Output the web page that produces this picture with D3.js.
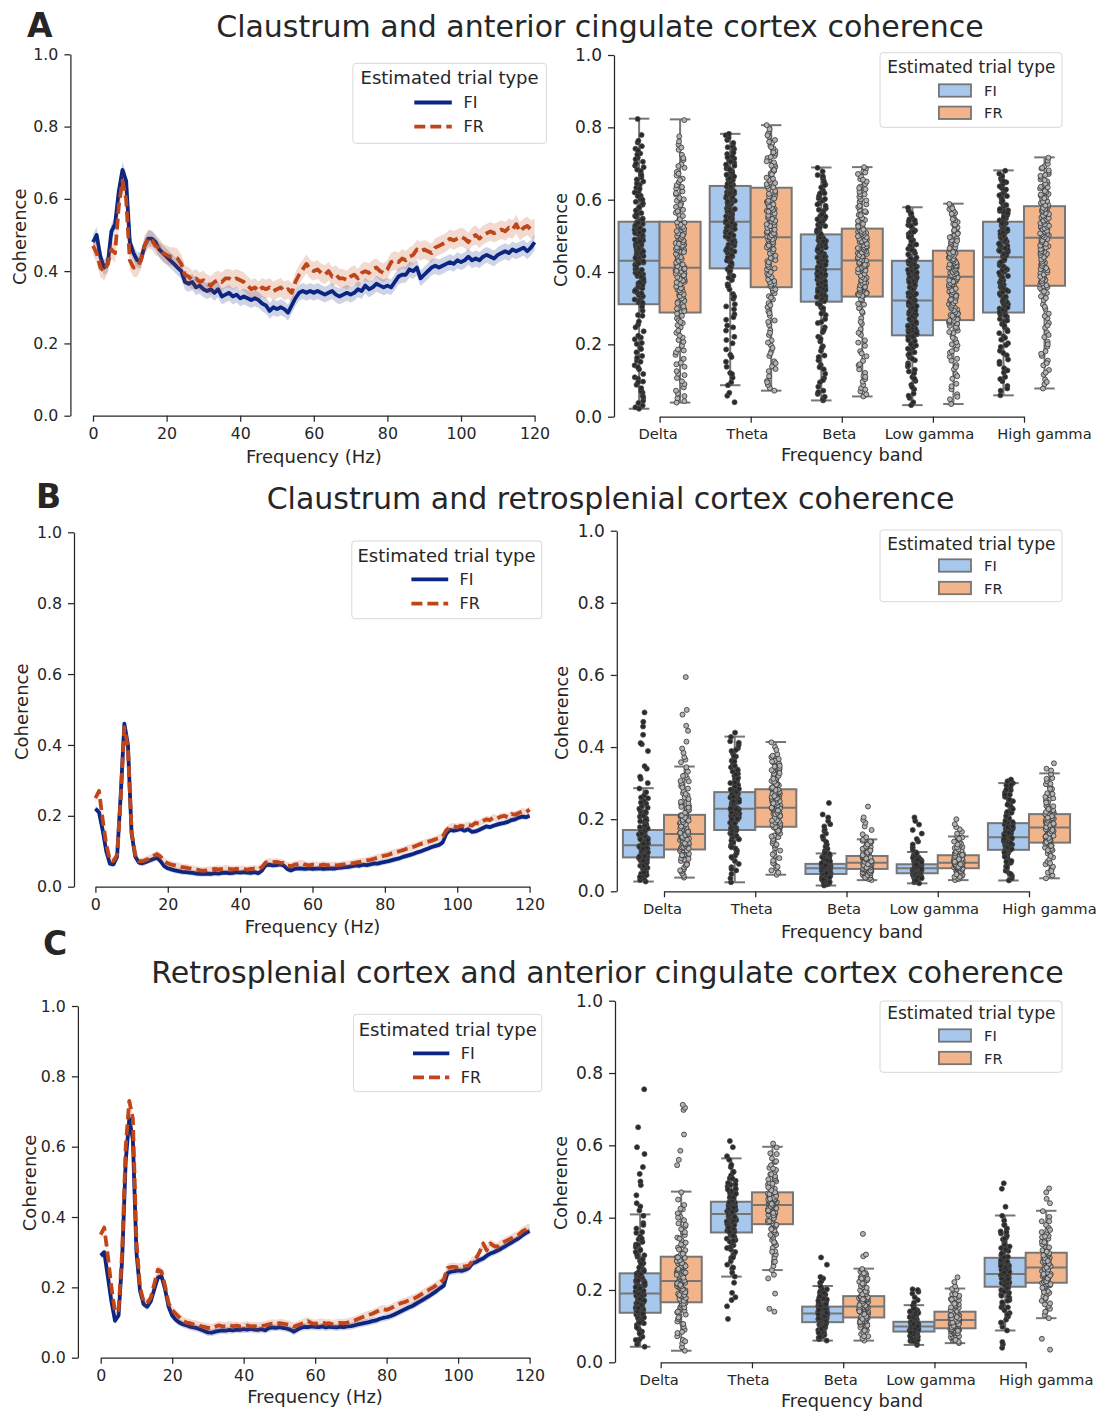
<!DOCTYPE html>
<html>
<head>
<meta charset="utf-8">
<script src="https://cdn.jsdelivr.net/npm/d3@7"></script>
<style>
  body { margin: 0; background: #fff; }
  svg { display: block; }
</style>
</head>
<body>
<svg id="fig" width="1097" height="1412"></svg>
<script>
// ---------- data ----------
const bands = ["Delta", "Theta", "Beta", "Low gamma", "High gamma"];
const trialTypes = ["FI", "FR"];
const freqTicks = [0, 20, 40, 60, 80, 100, 120];
const cohTicks = [0, 0.2, 0.4, 0.6, 0.8, 1.0];
const panelLetters = ["A", "B", "C"];
const panelTitles = [
  "Claustrum and anterior cingulate cortex coherence",
  "Claustrum and retrosplenial cortex coherence",
  "Retrosplenial cortex and anterior cingulate cortex coherence"
];
const legendTitle = "Estimated trial type";

// mean coherence spectra, one value per Hz (0..120 Hz)
const cohA_FI = [
  .48,.50,.44,.41,.42,.51,.53,.62,.68,.65,
  .48,.45,.43,.43,.47,.49,.49,.48,.46,.45,
  .44,.43,.42,.41,.40,.37,.365,.37,.355,.36,
  .35,.345,.35,.34,.35,.33,.335,.34,.33,.335,
  .325,.33,.325,.32,.325,.32,.31,.305,.29,.30,
  .295,.30,.295,.285,.305,.325,.34,.345,.34,.345,
  .34,.345,.34,.335,.34,.345,.335,.33,.335,.34,
  .335,.34,.35,.345,.36,.35,.355,.365,.36,.355,
  .36,.355,.37,.385,.39,.39,.405,.40,.41,.38,
  .39,.40,.41,.415,.41,.415,.42,.425,.42,.43,
  .425,.43,.44,.43,.435,.43,.44,.445,.44,.435,
  .445,.45,.455,.45,.46,.455,.46,.465,.455,.465,
  .48];
const cohA_FR = [
  .47,.45,.41,.40,.42,.46,.45,.58,.65,.60,
  .43,.41,.41,.43,.47,.49,.485,.47,.465,.45,
  .445,.44,.44,.435,.42,.39,.385,.375,.38,.37,
  .375,.365,.36,.37,.375,.37,.38,.38,.375,.38,
  .375,.37,.36,.35,.355,.345,.355,.35,.355,.345,
  .35,.355,.345,.35,.34,.37,.39,.405,.42,.405,
  .40,.405,.395,.39,.40,.385,.39,.38,.38,.375,
  .385,.39,.38,.395,.40,.395,.405,.41,.40,.395,
  .405,.425,.43,.425,.435,.43,.44,.445,.46,.455,
  .46,.455,.45,.465,.47,.475,.48,.49,.485,.49,
  .495,.49,.48,.495,.50,.49,.50,.505,.51,.505,
  .51,.515,.51,.52,.515,.53,.51,.52,.525,.515,
  .52];
const cohB_FI = [
  .22,.21,.16,.10,.065,.063,.085,.26,.46,.40,
  .15,.085,.068,.066,.07,.074,.078,.082,.072,.058,
  .052,.049,.046,.044,.042,.041,.04,.039,.037,.036,
  .036,.037,.036,.038,.037,.039,.04,.038,.039,.041,
  .04,.041,.04,.039,.041,.038,.045,.06,.062,.06,
  .061,.063,.06,.05,.046,.05,.052,.051,.05,.052,
  .05,.051,.052,.05,.051,.052,.051,.053,.054,.055,
  .056,.058,.06,.059,.062,.061,.063,.066,.065,.068,
  .07,.072,.075,.078,.08,.084,.087,.09,.093,.097,
  .10,.104,.108,.112,.115,.118,.125,.15,.16,.158,
  .16,.163,.158,.162,.155,.156,.16,.165,.17,.168,
  .172,.175,.178,.18,.183,.188,.19,.195,.198,.196,
  .20];
const cohB_FR = [
  .25,.27,.19,.12,.075,.072,.09,.25,.45,.39,
  .155,.09,.072,.072,.076,.08,.086,.092,.085,.072,
  .066,.062,.06,.058,.055,.054,.052,.05,.048,.046,
  .045,.047,.048,.05,.049,.05,.052,.05,.049,.05,
  .049,.05,.048,.05,.051,.049,.055,.068,.07,.069,
  .07,.068,.067,.06,.058,.062,.064,.066,.062,.06,
  .062,.061,.06,.062,.061,.06,.061,.06,.062,.063,
  .064,.066,.068,.07,.072,.074,.076,.079,.082,.085,
  .088,.09,.094,.097,.10,.103,.107,.11,.113,.117,
  .121,.124,.127,.13,.134,.137,.142,.16,.168,.17,
  .168,.172,.17,.175,.172,.18,.178,.185,.19,.188,
  .195,.192,.198,.20,.196,.205,.203,.208,.212,.21,
  .218];
const cohC_FI = [
  .29,.30,.23,.16,.105,.12,.28,.56,.68,.62,
  .30,.19,.152,.145,.16,.195,.228,.232,.195,.145,
  .12,.108,.10,.095,.092,.088,.086,.084,.08,.076,
  .072,.071,.074,.076,.078,.077,.079,.078,.08,.079,
  .081,.08,.082,.08,.079,.081,.078,.084,.086,.085,
  .087,.085,.083,.08,.074,.08,.085,.088,.087,.089,
  .088,.087,.089,.086,.088,.087,.086,.088,.087,.089,
  .09,.092,.095,.097,.099,.101,.104,.106,.11,.113,
  .115,.118,.122,.127,.132,.137,.142,.146,.152,.158,
  .164,.17,.176,.183,.19,.198,.205,.24,.245,.246,
  .248,.247,.25,.255,.268,.272,.278,.282,.29,.296,
  .30,.305,.31,.316,.322,.328,.334,.34,.348,.355,
  .36];
const cohC_FR = [
  .35,.37,.29,.20,.13,.135,.30,.60,.73,.68,
  .33,.20,.16,.155,.17,.21,.25,.245,.205,.155,
  .135,.125,.115,.105,.10,.098,.095,.094,.09,.088,
  .085,.084,.088,.092,.09,.089,.092,.09,.091,.089,
  .09,.092,.089,.09,.088,.09,.092,.095,.097,.096,
  .098,.097,.095,.093,.088,.092,.096,.10,.104,.098,
  .096,.099,.10,.097,.098,.095,.097,.099,.098,.10,
  .103,.106,.11,.114,.118,.122,.125,.13,.135,.138,
  .136,.14,.145,.15,.155,.158,.162,.166,.17,.176,
  .182,.188,.194,.20,.207,.214,.222,.255,.258,.258,
  .256,.258,.26,.262,.275,.282,.30,.325,.305,.325,
  .318,.315,.325,.33,.335,.34,.345,.35,.36,.365,
  .37];
// half-width of the shaded confidence band [FI, FR]
const ciA = [0.022, 0.026];
const ciB = [0.008, 0.010];
const ciC = [0.010, 0.012];

// box statistics per band, in thousandths: [whisker low, Q1, median, Q3, whisker high]
const boxA_FI = [[22,311,431,539,824],[87,410,539,638,782],[45,318,408,504,689],[32,225,321,431,579],[59,288,441,539,681]];
const boxA_FR = [[39,288,412,539,822],[72,358,496,633,806],[56,332,432,520,690],[35,267,387,459,589],[78,362,495,582,717]];
const boxB_FI = [[27,94,128,170,286],[25,170,229,275,429],[16,48,64,76,105],[22,50,64,75,109],[30,115,150,189,300]];
const boxB_FR = [[38,116,159,212,346],[46,179,232,283,414],[31,62,79,98,144],[31,64,79,100,152],[36,135,177,214,327]];
const boxC_FI = [[43,137,190,246,409],[237,359,410,444,564],[60,111,135,154,211],[48,85,99,112,158],[88,209,244,289,406]];
const boxC_FR = [[32,166,225,292,472],[255,382,435,470,596],[60,124,154,183,259],[53,94,117,140,204],[122,220,262,303,419]];

// per-session coherence values per band, in thousandths
const ptsA_FI = [
  [22,26,31,38,44,53,58,67,71,79,88,97,109,118,131,142,155,163,178,190,204,219,236,255,281,
   312,316,321,327,330,336,343,347,352,358,362,369,373,378,384,389,394,398,403,408,413,417,421,426,430,
   432,437,441,447,450,456,460,462,468,470,476,480,482,488,492,494,500,505,508,512,517,520,527,533,538,
   541,548,555,563,571,577,586,594,602,611,622,633,641,650,662,671,683,694,705,716,728,741,758,779,823,
   105,137,168,201,224,247,263,279,293,304,315,324,333,341,349,355,364,371,380,387,393,399,406,411,418,
   424,429,434,439,444,452,457,464,469,474,478,485,490,497,503,509,515,522,530,536,545,553,561,570,580,
   590,600,610,620,630,645,656,668,679,690,700,712,725,736,748,763,96,152,187,214],
  [40,58,66,87,95,108,121,138,152,171,186,203,221,238,252,268,283,297,311,326,339,352,366,378,389,398,404,408,
   413,420,428,436,443,450,457,463,470,476,482,488,493,498,503,508,512,517,521,525,529,532,535,537,
   540,545,549,554,559,563,567,572,576,580,585,589,593,597,601,605,609,613,617,621,625,629,632,636,
   641,646,651,656,661,666,671,676,681,686,691,697,702,708,714,720,726,733,740,748,757,765,772,778,782,
   118,165,212,247,275,305,332,361,384,402,415,425,432,440,446,453,460,466,473,479,485,491,496,501,506,
   510,515,519,523,527,531,538,542,547,551,556,561,565,570,574,578,583,587,591,595,599,603,607,611,615,
   619,623,627,631,634,639,644,649,654,659,664,669,674,679,684,694,705,717,730,745],
  [45,49,55,63,72,83,95,107,119,131,143,156,169,182,195,208,221,234,247,259,270,281,292,302,313,
   321,325,329,333,337,341,345,349,353,357,361,365,369,373,377,380,383,386,389,392,395,398,401,404,406,
   410,414,418,422,426,430,434,438,442,446,450,454,458,462,466,470,474,478,482,486,490,494,497,500,502,
   508,514,520,527,534,541,548,555,562,569,576,583,590,597,604,611,618,626,634,642,650,659,668,678,688,
   68,101,137,165,190,215,240,262,285,300,310,319,323,327,331,335,339,343,347,351,355,359,363,367,371,
   375,379,384,388,393,397,403,409,412,416,420,424,428,432,436,440,444,448,452,456,460,464,468,472,476,
   480,484,488,492,496,505,511,517,524,531,538,546,553,560,572,587,602,618,640,665],
  [32,40,52,64,76,88,99,110,120,130,139,148,156,164,171,178,185,191,197,203,209,214,218,221,224,
   228,232,236,240,244,248,252,256,260,264,268,272,276,280,284,288,292,296,300,304,308,311,314,317,320,
   324,328,333,338,342,347,351,356,361,365,370,374,379,383,388,392,397,401,406,410,415,419,423,427,430,
   434,440,446,452,458,464,470,476,482,488,494,500,505,510,515,520,525,530,535,540,546,552,560,570,578,
   58,82,105,125,143,160,174,188,200,212,222,230,234,238,242,246,250,254,258,262,266,270,274,278,282,
   286,290,294,298,302,306,310,313,316,319,322,326,330,335,340,344,349,353,358,363,367,372,376,381,385,
   390,394,399,403,408,412,417,421,425,429,437,449,461,473,485,497,511,527,543,562],
  [59,72,85,98,110,122,134,146,158,170,182,193,203,213,222,231,240,248,256,263,270,276,281,285,287,
   293,299,305,311,317,323,329,335,341,347,353,359,365,371,377,383,389,395,401,407,413,419,425,432,439,
   444,448,452,456,460,464,468,472,476,480,484,488,492,496,500,504,508,512,516,520,524,528,532,535,538,
   543,549,555,560,566,571,577,582,588,593,599,604,610,615,621,626,632,637,643,648,654,659,665,672,680,
   78,104,128,152,176,198,218,236,252,266,279,290,296,302,308,314,320,326,332,338,344,350,356,362,368,
   374,380,386,392,398,404,410,416,422,428,436,446,450,454,458,462,466,470,474,478,482,486,490,494,498,
   502,506,510,514,518,522,526,530,534,546,552,558,563,569,574,585,596,612,628,651]
];
const ptsA_FR = [
  [39,43,51,57,64,72,81,90,98,107,119,126,138,149,160,171,183,196,207,219,232,247,259,272,285,
   290,296,301,307,312,318,323,329,335,340,346,351,357,362,368,373,378,383,388,393,397,401,405,408,411,
   414,419,424,428,433,438,443,447,452,457,461,466,470,475,480,485,489,494,499,504,510,516,522,528,536,
   542,549,557,564,572,580,589,597,605,614,623,631,640,649,658,667,677,688,698,710,724,738,752,775,820,
   115,145,178,212,238,253,266,279,292,299,305,314,320,327,333,338,344,349,355,360,366,371,376,381,386,
   391,396,403,409,416,421,426,431,436,441,445,450,455,460,464,468,473,478,482,487,492,497,502,507,513,
   519,525,531,537,546,555,568,585,601,618,635,654,672,693,715,744,761,186,224,262],
  [72,79,88,99,112,126,139,153,168,182,197,211,226,239,253,266,279,291,303,314,324,333,341,348,355,
   361,368,375,382,389,396,403,410,417,423,430,436,442,448,454,460,465,470,475,480,484,487,490,493,495,
   499,504,509,514,519,524,529,534,539,544,549,554,559,564,569,574,579,584,589,594,599,605,612,620,630,
   637,643,649,655,661,667,673,679,685,691,697,703,709,715,721,728,735,742,749,757,765,774,784,795,806,
   95,132,175,205,232,262,286,308,329,352,365,372,379,386,393,400,407,414,420,427,433,439,445,451,457,
   463,468,473,478,483,490,497,502,507,512,517,522,527,532,537,542,547,552,557,562,567,572,577,582,587,
   592,597,603,609,616,624,634,646,658,670,682,694,706,718,731,745,760,778,148,190],
  [56,62,70,79,88,97,104,112,121,131,142,154,167,181,196,211,226,242,257,272,287,300,312,322,330,
   335,339,343,348,352,357,361,366,370,375,379,384,388,393,397,402,406,410,414,418,421,424,427,429,431,
   434,438,441,445,448,452,455,459,462,466,469,473,476,480,483,487,490,494,497,501,504,508,511,515,518,
   523,530,537,544,551,558,565,572,580,587,594,601,608,615,622,629,636,643,650,657,664,671,678,685,690,
   75,110,145,175,205,232,262,290,310,325,334,337,341,345,350,354,359,363,368,372,377,381,386,390,395,
   399,404,408,412,416,420,423,426,433,436,440,443,447,450,454,457,461,464,468,471,475,478,482,485,489,
   492,496,499,503,506,510,513,517,526,533,541,549,557,568,583,598,615,632,655,675],
  [35,48,62,76,91,105,118,131,143,155,166,177,187,197,206,215,223,231,238,245,251,256,260,263,266,
   271,276,281,286,291,296,301,306,311,316,321,326,331,336,341,346,351,356,361,366,371,375,379,383,386,
   389,392,395,398,401,404,407,410,413,416,419,422,425,428,431,434,437,440,443,446,449,452,454,456,458,
   463,468,473,478,483,488,493,498,503,508,513,518,523,528,533,538,543,548,553,558,563,568,574,581,588,
   55,84,112,137,160,181,200,218,234,248,258,265,269,274,279,284,289,294,299,304,309,314,319,324,329,
   334,339,344,349,354,359,364,369,373,377,381,385,388,391,394,397,400,403,406,409,412,415,418,421,424,
   427,430,433,436,439,442,445,448,451,455,466,476,486,496,506,516,531,546,561,576],
  [78,90,103,116,129,142,155,168,181,194,207,220,233,246,259,272,285,298,310,322,333,342,350,356,360,
   366,372,378,384,390,396,402,408,414,420,426,432,438,444,450,456,461,466,471,476,481,485,489,492,494,
   498,502,505,509,512,516,519,523,526,530,533,537,540,544,547,551,554,558,561,565,568,572,575,578,581,
   586,591,596,601,606,611,616,621,626,631,636,641,646,651,656,661,666,671,676,681,686,692,699,708,716,
   96,122,148,174,200,226,252,278,304,328,346,358,363,369,375,381,387,393,399,405,411,417,423,429,435,
   441,447,453,458,463,468,473,478,483,487,491,496,500,504,507,511,514,518,521,525,528,532,535,539,542,
   546,549,553,556,560,563,567,570,574,577,584,594,604,614,624,634,644,654,668,688]
];
const ptsB_FI = [
  [27,31,36,41,45,49,54,58,62,65,68,71,74,77,80,83,86,88,91,93,
   95,97,99,101,103,105,107,109,111,113,114,116,117,119,120,122,123,125,126,127,
   129,131,133,135,137,139,141,143,145,147,149,151,153,155,157,159,161,163,166,169,
   172,176,180,184,188,192,197,202,207,212,217,223,229,236,243,250,258,266,275,285,
   300,312,318,340,347,389,408,411,434,457,470,496,
   52,64,75,85,92,96,100,104,108,112,115,118,121,124,127,130,134,138,142,146,150,154,158,162,165,
   168,174,178,186,194,200,210,220,232,246,260,40,70,98,118,132,144,160,182],
  [25,36,48,58,67,76,84,92,99,106,113,119,125,131,136,141,146,150,154,158,161,164,166,168,169,
   172,175,178,181,184,187,190,193,196,199,202,205,208,211,213,215,217,219,221,223,225,226,227,228,229,
   231,233,235,237,239,241,243,245,247,249,251,253,255,257,259,261,263,265,267,268,270,271,272,273,274,
   278,282,286,290,295,300,305,310,315,320,326,332,338,344,350,356,362,368,374,381,389,397,406,416,428,440,
   62,95,122,144,160,170,177,183,189,195,201,207,212,216,220,224,228,232,236,240,244,248,252,256,260,
   264,269,276,284,292,302,312,324,336,348,360,375,392,412,188,218,250,230,200,262],
  [16,19,22,25,28,30,32,34,36,38,40,41,42,43,44,45,46,47,47,48,
   49,50,51,52,53,54,55,55,56,57,58,58,59,60,60,61,62,62,63,63,
   65,66,66,67,68,68,69,70,70,71,71,72,72,73,73,74,74,75,75,76,
   77,78,79,80,81,82,83,84,85,86,87,88,90,92,94,96,98,100,102,104,
   108,112,118,124,130,137,145,152,160,167,172,180,186,195,205,213,245,
   26,33,39,44,48,51,53,55,57,59,60,61,62,63,64,65,66,67,68,69,70,71,72,73,74,75,76,78,80,83,86,90,95,101,106,58,63,67,72,50],
  [22,25,28,31,33,35,37,39,40,41,42,43,44,45,46,46,47,48,49,49,
   51,52,53,53,54,55,56,56,57,58,58,59,59,60,61,61,62,62,63,63,
   65,65,66,67,67,68,68,69,69,70,70,71,71,72,72,73,73,74,74,75,
   76,77,78,79,80,81,82,83,84,85,86,87,88,90,92,94,97,100,104,108,
   115,122,130,138,145,160,170,185,195,205,
   30,36,41,45,48,51,53,55,57,59,60,61,62,63,64,65,66,67,68,69,70,71,72,73,74,75,77,79,81,84,88,93,99,105,58,62,66,70,74],
  [30,36,43,50,57,63,69,74,79,84,88,92,96,99,102,105,107,109,111,113,
   116,118,120,122,124,126,128,130,132,134,136,138,140,141,142,144,145,146,148,149,
   151,153,155,157,159,161,163,165,167,169,171,173,175,177,179,181,183,185,187,188,
   192,196,200,205,210,215,220,226,232,238,244,250,256,262,268,274,280,287,294,300,
   305,310,
   48,66,82,96,108,117,123,129,135,140,145,150,155,160,165,170,175,180,185,190,195,202,209,218,228,
   240,254,268,282,295,133,148,162,178]
];
const ptsB_FR = [
  [38,43,49,55,61,66,71,76,80,84,88,92,96,99,102,105,108,110,112,114,
   118,120,122,124,126,128,130,132,134,136,138,140,142,144,146,148,150,152,155,157,
   161,164,167,170,173,176,179,182,185,188,191,194,197,199,201,203,205,207,209,211,
   215,220,225,230,236,242,248,254,260,266,272,278,285,292,299,306,314,322,332,344,
   358,365,372,384,396,415,445,459,490,503,594,
   58,74,90,104,113,119,123,127,131,135,139,143,147,151,156,160,165,170,175,180,186,192,198,204,210,
   218,226,234,244,256,270,288,305,320,100,133,162,196,232],
  [46,52,58,64,71,78,85,92,99,106,113,120,127,133,139,145,150,155,160,165,169,172,175,177,178,
   181,184,187,190,193,196,199,202,205,208,211,213,215,217,219,221,223,225,227,228,229,230,231,231,232,
   234,236,238,240,242,244,246,248,250,252,254,256,258,260,262,264,266,268,270,272,274,276,278,280,282,
   286,290,294,298,302,306,310,314,318,322,326,330,334,338,342,346,350,354,358,362,367,372,380,400,413,
   68,102,130,152,168,178,185,191,197,203,209,214,218,222,226,230,234,238,242,246,250,254,258,262,266,
   271,276,281,288,296,304,312,320,328,336,348,360,376,392,196,224,244,264],
  [31,34,37,40,42,44,46,48,50,51,52,53,54,55,56,57,58,59,60,61,
   63,64,65,66,67,68,69,70,71,71,72,73,74,74,75,76,76,77,78,78,
   80,81,82,83,84,85,85,86,87,88,88,89,90,91,92,93,94,95,96,97,
   99,101,103,105,107,109,111,113,115,117,119,121,123,125,128,131,134,137,140,143,
   150,158,170,180,190,198,205,235,
   38,45,50,54,58,61,64,66,68,70,72,74,76,78,80,82,84,86,88,90,92,94,96,98,100,104,108,113,118,124,130,138,66,75,83,91],
  [31,34,37,40,43,46,48,50,52,54,55,56,57,58,59,60,61,62,63,63,
   65,66,67,68,69,70,71,71,72,73,74,74,75,76,76,77,77,78,78,79,
   80,81,82,83,84,85,86,87,88,89,90,91,92,93,94,95,96,97,98,99,
   102,104,106,108,111,114,117,120,123,126,129,132,135,138,141,144,147,149,151,152,
   160,165,172,178,186,200,
   40,47,52,56,60,63,66,68,70,72,74,76,78,80,82,84,86,88,90,92,94,96,98,101,105,110,116,122,130,138,146,68,75,82,89],
  [36,44,52,60,68,75,82,88,94,100,105,110,114,118,121,124,127,130,132,134,
   137,139,141,143,145,147,149,151,153,155,157,159,161,163,165,167,169,171,173,175,
   179,181,183,185,187,189,191,193,195,197,199,201,203,205,207,208,209,210,212,213,
   217,221,225,229,233,237,242,247,252,257,262,267,272,278,284,290,297,305,314,325,
   335,340,355,
   56,78,98,114,126,136,142,148,154,160,166,172,178,184,190,196,202,208,214,220,228,236,246,258,270,
   284,298,312,152,170,188,204]
];
const ptsC_FI = [
  [43,50,57,64,71,78,85,91,97,103,108,113,118,122,126,129,132,134,135,136,
   139,142,145,148,151,154,157,160,163,165,167,169,171,173,175,178,181,184,186,188,
   192,195,198,201,204,207,210,213,216,219,222,225,228,231,234,237,240,242,244,245,
   250,256,262,268,274,280,286,292,298,305,312,319,326,333,340,348,358,370,385,405,
   420,431,440,462,490,500,521,540,576,595,650,755,
   62,80,96,110,124,134,142,150,158,166,174,182,190,196,202,208,214,220,226,232,238,244,252,262,272,
   284,296,310,325,342,360,380,150,176,204,226],
  [120,155,172,180,192,220,
   237,248,259,270,280,289,297,305,312,318,324,329,334,338,342,345,348,351,354,357,
   361,364,367,370,373,376,379,382,385,388,390,392,394,396,398,400,402,404,406,408,
   411,413,415,417,419,421,423,425,427,429,431,432,434,435,437,438,440,441,442,443,
   446,449,452,455,458,461,465,469,473,477,481,486,491,496,502,509,517,527,540,560,
   570,595,612,
   262,290,316,336,350,362,372,380,388,395,400,405,410,414,418,422,426,430,434,438,442,448,456,466,478,
   492,508,526,546,392,402,416,428],
  [60,64,68,72,76,80,83,86,89,92,94,96,98,100,102,104,105,107,108,110,
   112,113,115,116,118,119,121,122,124,125,126,127,128,129,130,131,132,133,134,134,
   136,137,138,139,140,141,142,143,144,145,146,147,148,149,150,151,151,152,153,153,
   156,158,160,162,164,166,168,170,172,174,176,178,180,182,185,188,192,197,203,210,
   220,225,232,236,270,290,
   70,82,92,100,106,112,117,121,125,129,133,137,141,145,149,153,157,161,165,170,176,183,192,202,121,129,137,145],
  [48,52,56,59,62,65,67,69,71,73,75,76,77,78,79,80,81,82,83,84,
   86,87,88,88,89,90,90,91,92,92,93,94,94,95,96,96,97,97,98,98,
   100,100,101,102,102,103,104,104,105,106,106,107,108,108,109,109,110,110,111,111,
   113,115,117,119,121,123,125,127,129,131,133,135,137,139,141,144,147,150,153,157,
   165,172,180,190,195,200,202,
   58,66,73,78,82,86,89,92,95,98,101,104,107,110,113,117,121,126,132,140,148,94,100,106],
  [40,50,56,
   88,98,108,118,127,136,144,152,159,166,172,178,183,188,192,196,200,203,205,207,
   211,213,215,217,219,221,223,225,227,229,231,233,235,237,238,239,240,241,242,243,
   246,248,250,252,254,256,258,260,262,264,266,268,270,272,274,276,279,282,285,288,
   292,296,300,304,308,312,316,320,325,330,335,340,345,350,356,362,370,380,392,405,
   430,480,495,
   110,132,152,170,184,196,206,214,220,226,232,238,244,250,256,262,268,275,282,290,300,312,326,342,360,
   380,230,248,266]
];
const ptsC_FR = [
  [32,42,52,62,72,81,90,98,106,113,120,126,132,138,143,148,153,157,161,164,
   169,172,175,178,181,184,187,190,193,196,199,202,205,208,211,214,217,220,222,224,
   228,231,235,238,242,245,249,252,256,259,263,266,270,273,277,280,283,286,289,291,
   297,303,310,317,324,331,338,345,352,360,368,376,384,393,402,412,423,435,450,470,
   545,560,585,630,698,704,712,
   58,84,106,124,140,152,162,170,178,186,194,202,210,218,226,234,242,250,258,266,274,282,290,300,312,
   326,342,360,380,400,425,186,214,248],
  [140,148,190,232,242,
   255,266,277,288,298,307,316,324,331,338,344,350,355,360,365,369,373,376,379,381,
   384,387,390,393,396,399,402,405,408,411,414,417,420,422,424,426,428,430,432,434,
   437,439,441,443,445,447,449,451,453,455,457,459,461,462,463,464,466,467,468,469,
   473,476,480,484,488,492,496,500,505,510,515,520,526,532,538,545,554,564,578,594,
   605,
   278,306,332,352,368,380,390,398,406,413,419,425,430,435,440,445,450,455,460,465,470,476,484,494,506,
   520,536,556,576,420,438,452],
  [60,66,72,78,83,88,92,96,100,104,107,110,113,115,117,119,120,121,122,123,
   126,128,130,132,134,136,138,140,142,143,144,145,146,147,148,149,150,151,152,153,
   155,157,159,161,163,165,167,169,171,172,173,174,175,176,177,178,179,180,181,182,
   186,189,192,195,199,203,207,211,215,219,223,227,231,235,239,243,247,251,255,258,
   293,298,355,
   72,88,102,112,120,127,133,139,145,151,157,163,169,175,181,188,196,206,218,232,246,141,158,174],
  [53,57,61,65,69,72,75,78,80,82,84,86,87,88,89,90,91,92,93,93,
   95,96,98,99,100,102,103,104,106,107,108,109,110,111,112,113,114,115,116,116,
   118,119,120,121,123,124,125,126,127,128,129,130,131,132,133,134,135,136,138,139,
   142,145,148,151,154,157,160,163,166,169,172,175,178,181,184,188,192,196,200,203,
   210,222,235,
   62,72,80,87,92,97,101,105,109,113,117,121,125,129,133,138,144,152,162,174,188,110,122,130],
  [35,65,
   122,131,140,148,156,163,170,176,182,187,192,197,201,205,208,211,213,215,217,219,
   222,224,226,228,230,232,234,236,238,240,242,244,246,248,250,252,254,256,258,260,
   264,266,268,270,272,274,276,278,280,282,284,286,288,290,292,294,296,298,300,302,
   306,310,314,318,322,326,330,334,338,342,346,350,355,360,366,372,380,390,402,418,
   440,452,470,481,
   140,160,178,194,206,216,224,232,240,248,256,264,272,280,288,296,306,318,332,348,366,390,244,262,280]
];

// ---------- layout ----------
const FONT = "DejaVu Sans, sans-serif";
const INK = "#262626";
const lineColors = ["#0a2582", "#c0461a"];
const boxFills = ["#a7c7ec", "#f2b48a"];
const boxEdge = "#767676";
const ptFill = ["#2a2a2a", "#b3b3b3"];
const ptStroke = ["#4a4a4a", "#333333"];
// horizontal nudge of each band label relative to its tick
const bandLabelShift = [-2, -4, -3, -4, 20];

const layout = [
  { // A
    letter: { x: 27, y: 37 }, title: { x: 600, y: 37 },
    line: { ax: 70.4, x0: 93, x1: 534.6, yt: 54.3, yb: 415.7,
            ylab: { x: 26.5, y: 236.7 }, xlab: { x: 313.8, y: 463 },
            leg: { x: 352.9, y: 63.3, w: 193.5, h: 80, tb: 84, cx: 449.6, rows: [102.5, 126.7], lx0: 414.3, lx1: 451.8, tx: 463.6 } },
    box: { ax: 614, c0: 659.6, step: 91.1, yt: 55, yb: 416.7,
           ylab: { x: 567, y: 240 }, xlab: { x: 852, y: 461 },
           leg: { x: 880, y: 52.7, w: 182, h: 74.6, tb: 73, cx: 971.3, rows: [90.5, 112.8], px0: 938.9, px1: 971, tx: 984 } }
  },
  { // B
    letter: { x: 36, y: 508 }, title: { x: 610.5, y: 509 },
    line: { ax: 74, x0: 95.4, x1: 529.6, yt: 532.3, yb: 886.7,
            ylab: { x: 28.5, y: 711.7 }, xlab: { x: 312.5, y: 933 },
            leg: { x: 351.8, y: 541, w: 190, h: 77.7, tb: 561.5, cx: 446.5, rows: [579.3, 603.7], lx0: 411.4, lx1: 448.2, tx: 459.6 } },
    box: { ax: 616.8, c0: 664, step: 91.25, yt: 530.7, yb: 891.3,
           ylab: { x: 568, y: 713 }, xlab: { x: 852, y: 938 },
           leg: { x: 880, y: 530, w: 182, h: 71.7, tb: 549.5, cx: 971.3, rows: [565.5, 588], px0: 938.9, px1: 971, tx: 984 } }
  },
  { // C
    letter: { x: 43, y: 955 }, title: { x: 607.5, y: 983 },
    line: { ax: 77.9, x0: 100.7, x1: 529.6, yt: 1006, yb: 1357.7,
            ylab: { x: 35.5, y: 1183 }, xlab: { x: 315, y: 1403 },
            leg: { x: 353.6, y: 1014.3, w: 188.2, h: 77.4, tb: 1036, cx: 447.7, rows: [1053.3, 1077.3], lx0: 413, lx1: 449.3, tx: 460.7 } },
    box: { ax: 615, c0: 660.7, step: 91.25, yt: 1000.7, yb: 1362.3,
           ylab: { x: 567, y: 1183 }, xlab: { x: 852, y: 1407 },
           leg: { x: 880, y: 1001, w: 182, h: 71.3, tb: 1019, cx: 971.3, rows: [1035.5, 1058], px0: 938.9, px1: 971, tx: 984 } }
  }
];

const panelData = [
  { fi: cohA_FI, fr: cohA_FR, ci: ciA, boxes: [boxA_FI, boxA_FR], pts: [ptsA_FI, ptsA_FR] },
  { fi: cohB_FI, fr: cohB_FR, ci: ciB, boxes: [boxB_FI, boxB_FR], pts: [ptsB_FI, ptsB_FR] },
  { fi: cohC_FI, fr: cohC_FR, ci: ciC, boxes: [boxC_FI, boxC_FR], pts: [ptsC_FI, ptsC_FR] }
];

const svg = d3.select("#fig").attr("font-family", FONT);

function styleAxis(g, fs) {
  g.attr("font-family", FONT).attr("font-size", fs).attr("color", INK);
  g.selectAll(".domain, .tick line").attr("stroke-width", 1.25);
  return g;
}

function addText(x, y, str, opts = {}) {
  const t = svg.append("text").attr("x", x).attr("y", y).text(str)
    .attr("fill", INK).attr("font-size", opts.size || 16)
    .attr("text-anchor", opts.anchor || "start");
  if (opts.weight) t.attr("font-weight", opts.weight);
  if (opts.rotate) t.attr("transform", `rotate(-90,${x},${y})`);
  if (opts.baseline) t.attr("dominant-baseline", opts.baseline);
  return t;
}

// ---------- spectra ----------
function drawLinePanel(L, d) {
  const x = d3.scaleLinear().domain([0, 120]).range([L.x0, L.x1]);
  const y = d3.scaleLinear().domain([0, 1]).range([L.yb, L.yt]);

  styleAxis(svg.append("g").attr("transform", `translate(${L.ax},0)`)
    .call(d3.axisLeft(y).tickValues(cohTicks).tickFormat(d3.format(".1f"))
      .tickSize(6).tickPadding(6).tickSizeOuter(0)), 15.8);
  styleAxis(svg.append("g").attr("transform", `translate(0,${L.yb})`)
    .call(d3.axisBottom(x).tickValues(freqTicks).tickFormat(d3.format("d"))
      .tickSize(6).tickPadding(6).tickSizeOuter(0)), 15.8);

  addText(L.ylab.x, L.ylab.y, "Coherence", { size: 18, anchor: "middle", rotate: true });
  addText(L.xlab.x, L.xlab.y, "Frequency (Hz)", { size: 18, anchor: "middle" });

  [d.fi, d.fr].forEach((vals, k) => {
    const pts = vals.map((v, hz) => [hz, v]);
    const area = d3.area().x(p => x(p[0]))
      .y0(p => y(p[1] - d.ci[k])).y1(p => y(p[1] + d.ci[k]));
    svg.append("path").datum(pts).attr("d", area)
      .attr("fill", lineColors[k]).attr("fill-opacity", 0.2);
    const line = d3.line().x(p => x(p[0])).y(p => y(p[1]));
    const path = svg.append("path").datum(pts).attr("d", line)
      .attr("fill", "none").attr("stroke", lineColors[k])
      .attr("stroke-width", 3.8).attr("stroke-linejoin", "round");
    if (k === 1) path.attr("stroke-dasharray", "11,5");
  });

  // legend
  const g = L.leg;
  svg.append("rect").attr("x", g.x).attr("y", g.y).attr("width", g.w).attr("height", g.h)
    .attr("rx", 3).attr("fill", "#fff").attr("fill-opacity", 0.85)
    .attr("stroke", "#d8d8d8").attr("stroke-width", 1);
  addText(g.cx, g.tb, legendTitle, { size: 18, anchor: "middle" });
  trialTypes.forEach((t, k) => {
    const l = svg.append("line").attr("x1", g.lx0).attr("x2", g.lx1)
      .attr("y1", g.rows[k]).attr("y2", g.rows[k])
      .attr("stroke", lineColors[k]).attr("stroke-width", 3.8);
    if (k === 1) l.attr("stroke-dasharray", "11,5");
    addText(g.tx, g.rows[k], t, { size: 16, baseline: "central" });
  });
}

// ---------- band boxes with strips ----------
function drawBoxPanel(B, d, seed) {
  const xp = d3.scalePoint().domain(bands).range([B.c0, B.c0 + 4 * B.step]);
  const y = d3.scaleLinear().domain([0, 1]).range([B.yb, B.yt]);
  const w = B.step * 0.45;
  const off = [-w / 2, w / 2];

  styleAxis(svg.append("g").attr("transform", `translate(${B.ax},0)`)
    .call(d3.axisLeft(y).tickValues(cohTicks).tickFormat(d3.format(".1f"))
      .tickSize(6).tickPadding(6).tickSizeOuter(0)), 17);
  const xa = styleAxis(svg.append("g").attr("transform", `translate(0,${B.yb})`)
    .call(d3.axisBottom(xp).tickSize(6).tickPadding(6).tickSizeOuter(0)), 14.7);
  xa.selectAll(".tick text").attr("dx", (b, i) => bandLabelShift[i]);

  addText(B.ylab.x, B.ylab.y, "Coherence", { size: 17.5, anchor: "middle", rotate: true });
  addText(B.xlab.x, B.xlab.y, "Frequency band", { size: 17.8, anchor: "middle" });

  // boxes
  trialTypes.forEach((t, k) => {
    bands.forEach((b, i) => {
      const [lo, q1, md, q3, hi] = d.boxes[k][i].map(v => v / 1000);
      const cx = xp(b) + off[k];
      const gg = svg.append("g").attr("stroke", boxEdge).attr("stroke-width", 2);
      gg.append("line").attr("x1", cx).attr("x2", cx).attr("y1", y(q3)).attr("y2", y(hi));
      gg.append("line").attr("x1", cx).attr("x2", cx).attr("y1", y(q1)).attr("y2", y(lo));
      gg.append("rect").attr("x", cx - w / 2).attr("width", w)
        .attr("y", y(q3)).attr("height", y(q1) - y(q3)).attr("fill", boxFills[k]);
      gg.append("line").attr("x1", cx - w / 2).attr("x2", cx + w / 2).attr("y1", y(md)).attr("y2", y(md));
      gg.append("line").attr("x1", cx - w / 4).attr("x2", cx + w / 4).attr("y1", y(hi)).attr("y2", y(hi));
      gg.append("line").attr("x1", cx - w / 4).attr("x2", cx + w / 4).attr("y1", y(lo)).attr("y2", y(lo));
    });
  });

  // strip points (horizontal jitter only)
  const rng = d3.randomLcg(seed);
  const jit = 4.6;
  trialTypes.forEach((t, k) => {
    bands.forEach((b, i) => {
      const cx = xp(b) + off[k];
      svg.append("g").selectAll("circle").data(d.pts[k][i]).join("circle")
        .attr("cx", () => cx + (rng() * 2 - 1) * jit)
        .attr("cy", v => y(v / 1000))
        .attr("r", 2.5)
        .attr("fill", ptFill[k]).attr("stroke", ptStroke[k]).attr("stroke-width", 0.8);
    });
  });

  // legend
  const g = B.leg;
  svg.append("rect").attr("x", g.x).attr("y", g.y).attr("width", g.w).attr("height", g.h)
    .attr("rx", 3).attr("fill", "#fff").attr("fill-opacity", 0.85)
    .attr("stroke", "#d8d8d8").attr("stroke-width", 1);
  addText(g.cx, g.tb, legendTitle, { size: 17, anchor: "middle" });
  trialTypes.forEach((t, k) => {
    svg.append("rect").attr("x", g.px0).attr("width", g.px1 - g.px0)
      .attr("y", g.rows[k] - 6.2).attr("height", 12.4)
      .attr("fill", boxFills[k]).attr("stroke", boxEdge).attr("stroke-width", 1.8);
    addText(g.tx, g.rows[k], t, { size: 14.6, baseline: "central" });
  });
}

layout.forEach((lay, p) => {
  addText(lay.letter.x, lay.letter.y, panelLetters[p], { size: 33, weight: "bold" });
  addText(lay.title.x, lay.title.y, panelTitles[p], { size: 30, anchor: "middle" });
  drawLinePanel(lay.line, panelData[p]);
  drawBoxPanel(lay.box, panelData[p], 0.17 + p * 0.21);
});
</script>
</body>
</html>
